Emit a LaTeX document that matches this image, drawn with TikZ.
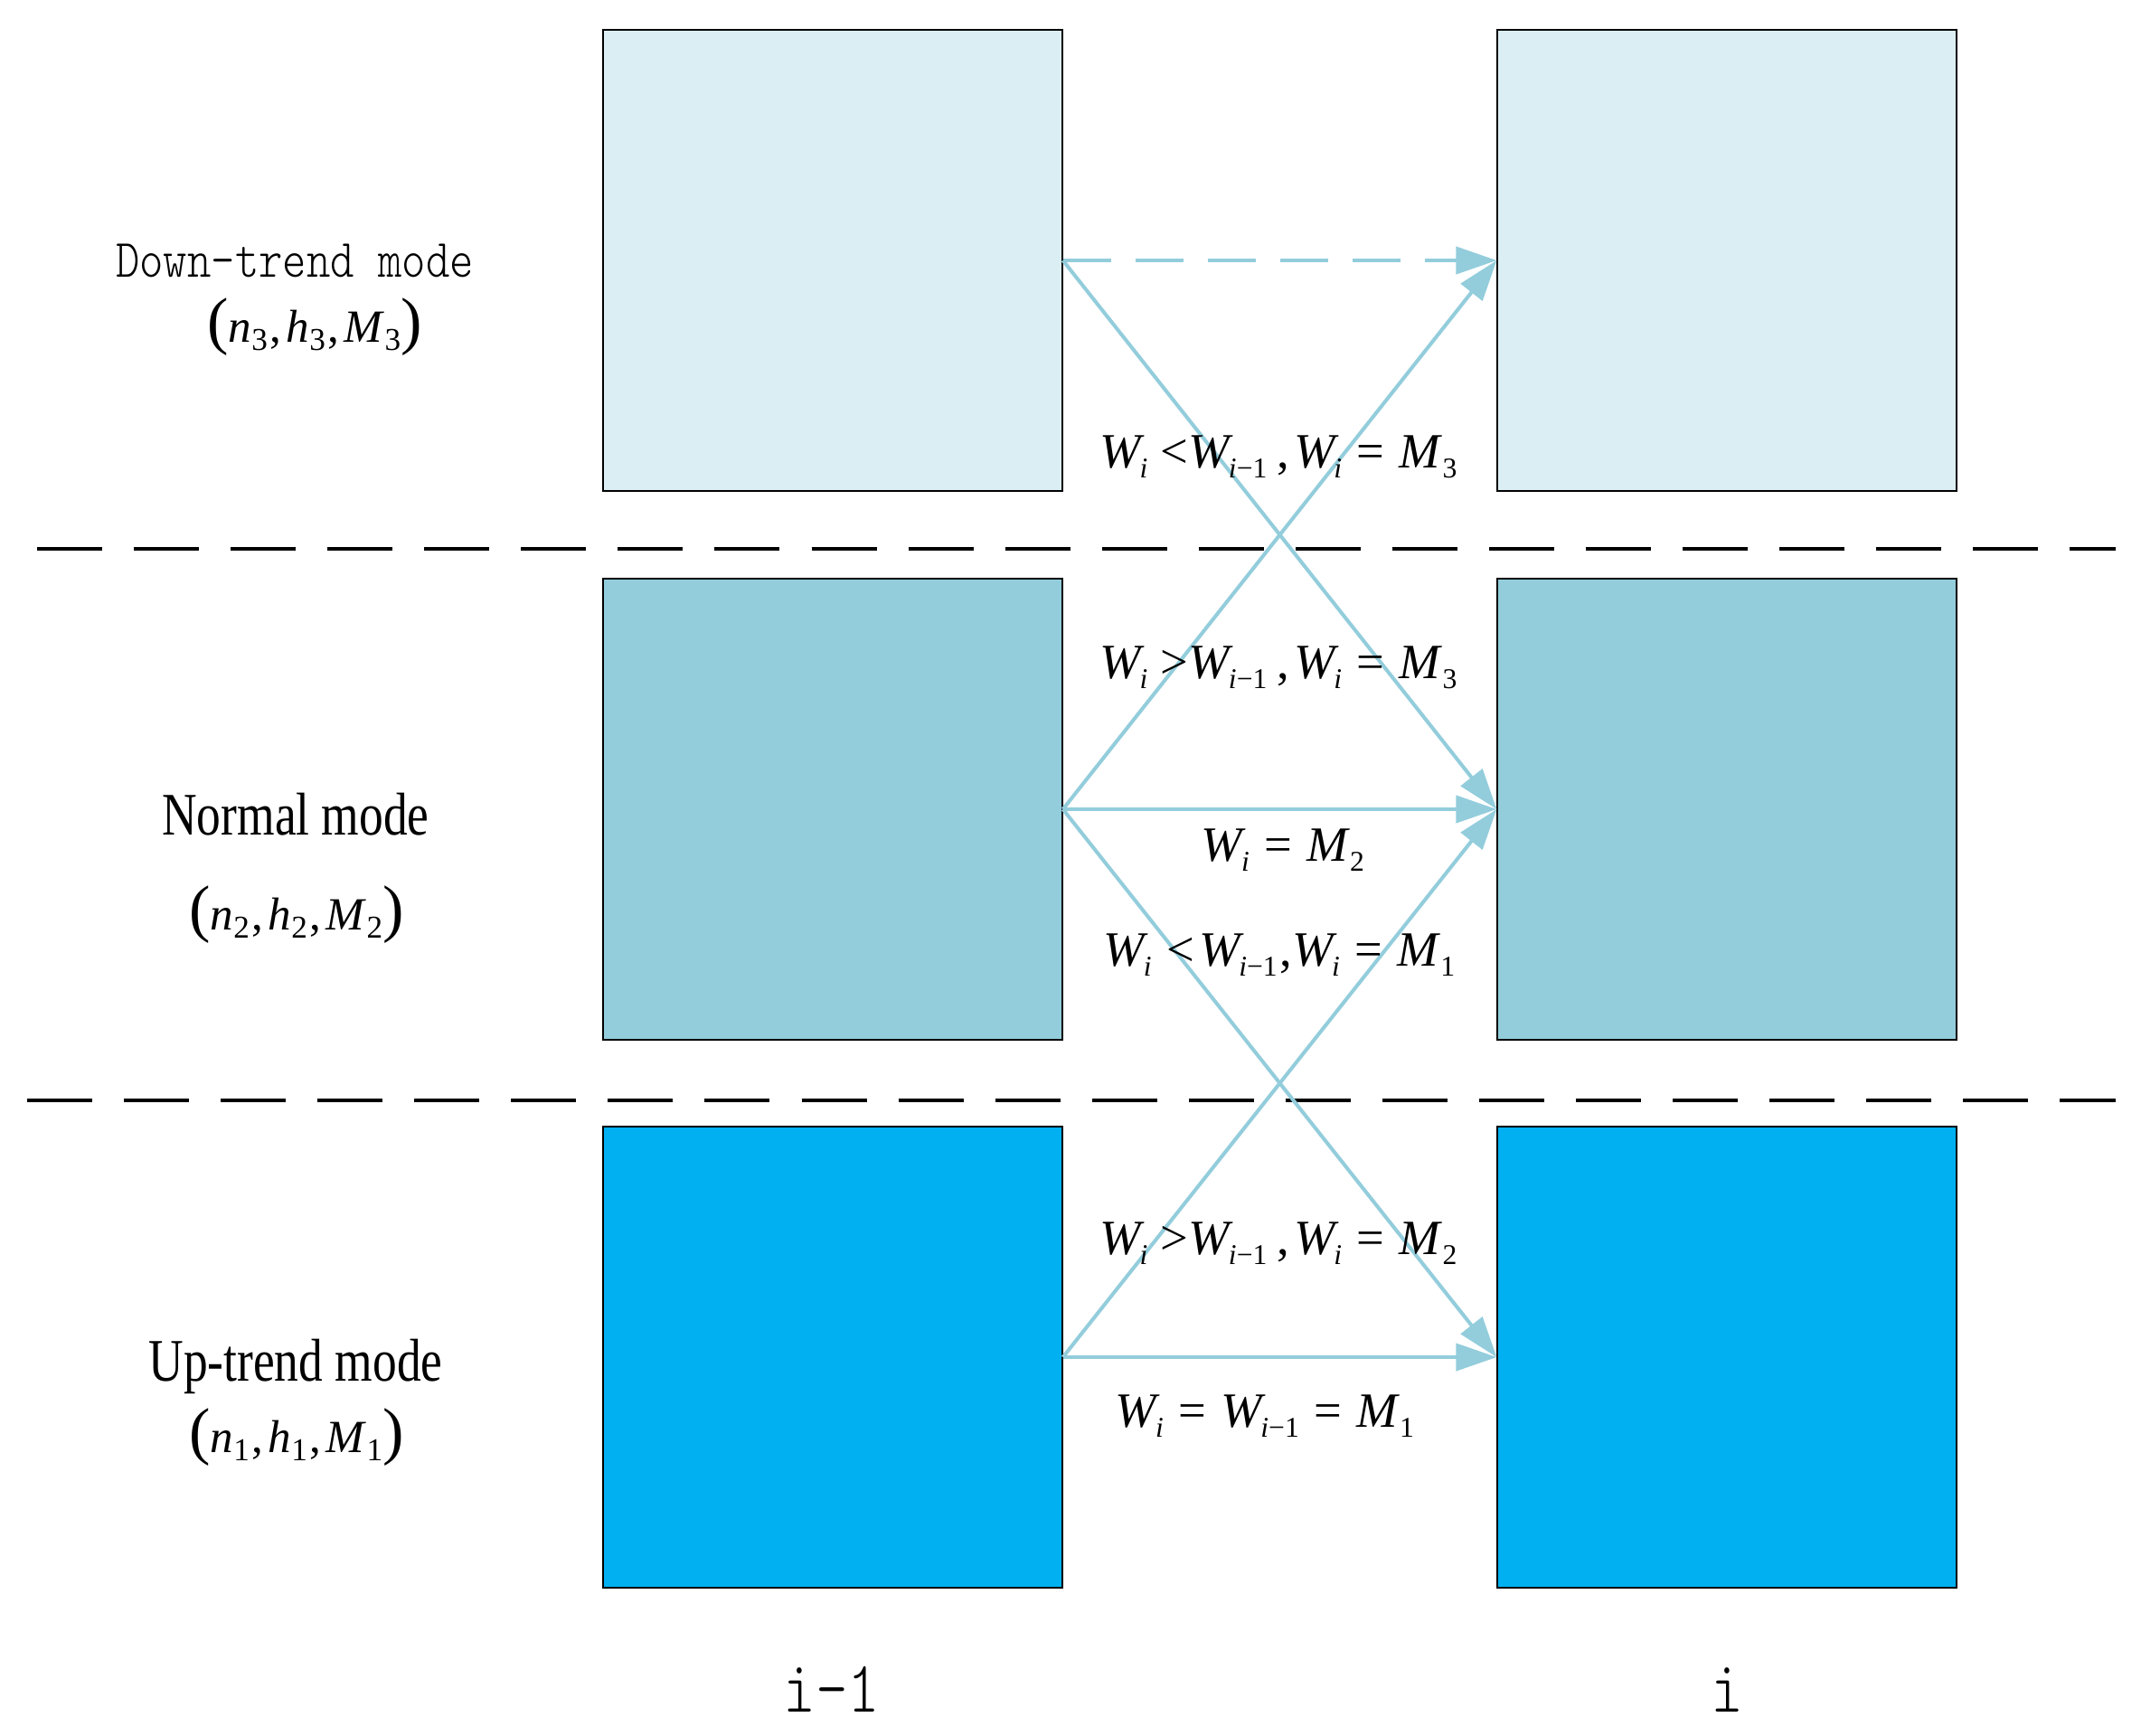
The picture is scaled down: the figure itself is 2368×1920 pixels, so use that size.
\documentclass[tikz,border=0pt]{standalone}
\usepackage{fontspec}
\setmainfont{Liberation Serif}
\newfontfamily\modefont[FakeStretch=0.8]{Liberation Serif}
\newfontfamily\cnfont[FakeStretch=0.84]{lmmonolt10-regular.otf}
\usetikzlibrary{arrows.meta}
\definecolor{boxtop}{HTML}{DBEEF3}
\definecolor{boxmid}{HTML}{93CDDC}
\definecolor{boxbot}{HTML}{00B0F0}
\definecolor{arrowc}{HTML}{93CDDC}
\newcommand\sa[1]{\raisebox{-3.4pt}{\fontsize{9}{9}\selectfont #1}}
\newcommand\sm[1]{\raisebox{-2.8pt}{\fontsize{10}{10}\selectfont #1}}
\newcommand\vi{\textit{i}}
\newcommand\bp[1]{{\fontsize{20}{20}\selectfont #1}}
\begin{document}
\begin{tikzpicture}[x=0.01cm,y=-0.01cm,
  box/.style={draw=black, line width=0.55pt, minimum width=5.07cm, minimum height=5.09cm, inner sep=0pt},
  flow/.style={draw=arrowc, line width=1.15pt, -{Triangle[length=0.45cm,width=0.30cm]}},
  sepline/.style={draw=black, line width=0.95pt, dash pattern=on 0.72cm off 0.35cm},
  modelbl/.style={anchor=base, inner sep=0pt, font=\modefont\fontsize{19}{19}\selectfont},
  cnlbl/.style={anchor=base, inner sep=0pt, font=\cnfont\fontsize{17}{17}\selectfont},
  steplbl/.style={anchor=base, inner sep=0pt, font=\cnfont\fontsize{23}{23}\selectfont},
  tuple/.style={anchor=base, inner sep=0pt, font=\fontsize{14.5}{14.5}\selectfont},
  condlbl/.style={anchor=base, inner sep=0pt, font=\fontsize{15.5}{16}\selectfont}]
\useasboundingbox (0,0) rectangle (2368,1920);

% separators
\coordinate (s1a) at (41,607);
\coordinate (s1b) at (2340,607);
\coordinate (s2a) at (30,1217);
\coordinate (s2b) at (2340,1217);
\draw[sepline] (s1a) -- (s1b);
\draw[sepline] (s2a) -- (s2b);

% boxes
\node[box, fill=boxtop] (L3) at (921,288) {};
\node[box, fill=boxtop] (R3) at (1910,288) {};
\node[box, fill=boxmid] (L2) at (921,895) {};
\node[box, fill=boxmid] (R2) at (1910,895) {};
\node[box, fill=boxbot] (L1) at (921,1501) {};
\node[box, fill=boxbot] (R1) at (1910,1501) {};

% arrows
\draw[flow, dash pattern=on 0.53cm off 0.27cm] (L3.east) -- (R3.west);
\draw[flow] (L3.east) -- (R2.west);
\draw[flow] (L2.east) -- (R3.west);
\draw[flow] (L2.east) -- (R2.west);
\draw[flow] (L2.east) -- (R1.west);
\draw[flow] (L1.east) -- (R2.west);
\draw[flow] (L1.east) -- (R1.west);

% mode labels
\node[cnlbl] (m3) at (326,306) {Down-trend mode};
\node[tuple] (t3) at (348,378) {\bp{(}\textit{n}\sm{3}\hspace{0.06em},\hspace{0.1em}\textit{h}\sm{3}\hspace{0.06em},\hspace{0.1em}\textit{M}\sm{3}\bp{)}};
\node[modelbl] (m2) at (327,923) {Normal mode};
\node[tuple] (t2) at (328,1028) {\bp{(}\textit{n}\sm{2}\hspace{0.06em},\hspace{0.1em}\textit{h}\sm{2}\hspace{0.06em},\hspace{0.1em}\textit{M}\sm{2}\bp{)}};
\node[modelbl] (m1) at (327,1527) {Up-trend mode};
\node[tuple] (t1) at (328,1606) {\bp{(}\textit{n}\sm{1}\hspace{0.06em},\hspace{0.1em}\textit{h}\sm{1}\hspace{0.06em},\hspace{0.1em}\textit{M}\sm{1}\bp{)}};

% step labels
\node[steplbl] (sprev) at (920,1893) {i-1};
\node[steplbl] (scur) at (1910,1893) {i};

% condition labels
\node[condlbl] (c1) at (1414,517) {\textit{W}\kern-0.1em\sa{\vi}\hspace{0.25em}<\hspace{0.02em}\textit{W}\kern-0.1em\sa{\vi−1}\hspace{0.2em},\hspace{0.1em}\textit{W}\kern-0.1em\sa{\vi}\hspace{0.3em}=\hspace{0.3em}\textit{M}\sa{3}};
\node[condlbl] (c2) at (1414,750) {\textit{W}\kern-0.1em\sa{\vi}\hspace{0.25em}>\hspace{0.02em}\textit{W}\kern-0.1em\sa{\vi−1}\hspace{0.2em},\hspace{0.1em}\textit{W}\kern-0.1em\sa{\vi}\hspace{0.3em}=\hspace{0.3em}\textit{M}\sa{3}};
\node[condlbl] (c3) at (1419,952) {\textit{W}\kern-0.1em\sa{\vi}\hspace{0.3em}=\hspace{0.3em}\textit{M}\sa{2}};
\node[condlbl] (c4) at (1415,1068) {\textit{W}\kern-0.1em\sa{\vi}\hspace{0.3em}<\hspace{0.1em}\textit{W}\kern-0.1em\sa{\vi−1}\hspace{0.05em},\textit{W}\kern-0.1em\sa{\vi}\hspace{0.3em}=\hspace{0.3em}\textit{M}\sa{1}};
\node[condlbl] (c5) at (1414,1387) {\textit{W}\kern-0.1em\sa{\vi}\hspace{0.25em}>\hspace{0.02em}\textit{W}\kern-0.1em\sa{\vi−1}\hspace{0.2em},\hspace{0.1em}\textit{W}\kern-0.1em\sa{\vi}\hspace{0.3em}=\hspace{0.3em}\textit{M}\sa{2}};
\node[condlbl] (c6) at (1399,1578) {\textit{W}\kern-0.1em\sa{\vi}\hspace{0.3em}=\hspace{0.3em}\textit{W}\kern-0.1em\sa{\vi−1}\hspace{0.3em}=\hspace{0.3em}\textit{M}\sa{1}};
\end{tikzpicture}
\end{document}
